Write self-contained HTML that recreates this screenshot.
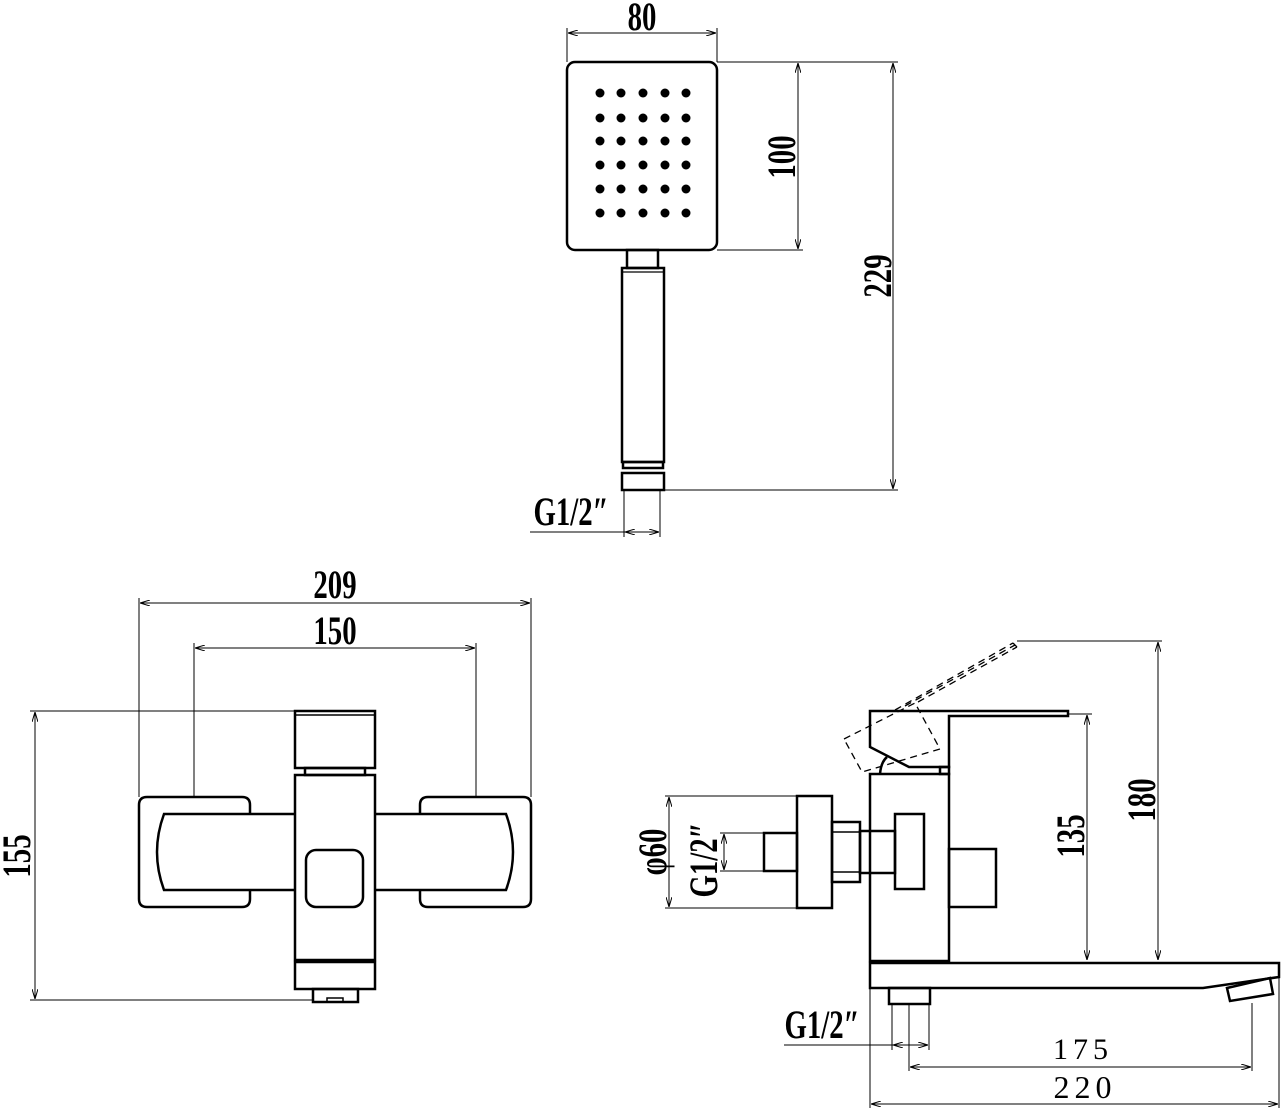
<!DOCTYPE html>
<html><head><meta charset="utf-8"><style>
html,body{margin:0;padding:0;background:#fff;}
svg{display:block;}
text{font-family:"Liberation Serif",serif;fill:#000;}
</style></head><body>
<svg width="1282" height="1110" viewBox="0 0 1282 1110" xmlns="http://www.w3.org/2000/svg">
<defs>
<marker id="a" viewBox="0 0 10 6" refX="10" refY="3" markerWidth="10" markerHeight="6" orient="auto-start-reverse" markerUnits="userSpaceOnUse"><path d="M0,0 L10,3 L0,6" fill="none" stroke="#000" stroke-width="1"/></marker>
</defs>
<g fill="none" stroke="#000" stroke-width="1">
<line x1="567" y1="28" x2="567" y2="62"/><line x1="717" y1="28" x2="717" y2="62"/>
<line x1="568" y1="33" x2="716" y2="33" marker-start="url(#a)" marker-end="url(#a)"/>
<line x1="717" y1="62" x2="898" y2="62"/><line x1="717" y1="250" x2="803" y2="250"/>
<line x1="798" y1="63" x2="798" y2="249" marker-start="url(#a)" marker-end="url(#a)"/>
<line x1="664" y1="490" x2="898" y2="490"/>
<line x1="893" y1="63" x2="893" y2="489" marker-start="url(#a)" marker-end="url(#a)"/>
<line x1="624" y1="490" x2="624" y2="537"/><line x1="660" y1="490" x2="660" y2="537"/>
<line x1="530" y1="532" x2="659" y2="532"/>
<line x1="625" y1="532" x2="659" y2="532" marker-start="url(#a)" marker-end="url(#a)"/>
<line x1="139" y1="598" x2="139" y2="797"/><line x1="531" y1="598" x2="531" y2="797"/>
<line x1="140" y1="603" x2="530" y2="603" marker-start="url(#a)" marker-end="url(#a)"/>
<line x1="194" y1="643" x2="194" y2="797"/><line x1="476" y1="643" x2="476" y2="797"/>
<line x1="195" y1="648" x2="475" y2="648" marker-start="url(#a)" marker-end="url(#a)"/>
<line x1="30" y1="711" x2="295" y2="711"/><line x1="30" y1="1000" x2="313" y2="1000"/>
<line x1="35" y1="712" x2="35" y2="999" marker-start="url(#a)" marker-end="url(#a)"/>
<line x1="1017" y1="641" x2="1162" y2="641"/>
<line x1="1158" y1="642" x2="1158" y2="960" marker-start="url(#a)" marker-end="url(#a)"/>
<line x1="1068" y1="714" x2="1092" y2="714"/>
<line x1="1087" y1="715" x2="1087" y2="960" marker-start="url(#a)" marker-end="url(#a)"/>
<line x1="665" y1="796" x2="797" y2="796"/><line x1="665" y1="908" x2="797" y2="908"/>
<line x1="669" y1="797" x2="669" y2="907" marker-start="url(#a)" marker-end="url(#a)"/>
<line x1="720" y1="833" x2="764" y2="833"/><line x1="720" y1="871" x2="764" y2="871"/>
<line x1="724" y1="834" x2="724" y2="870" marker-start="url(#a)" marker-end="url(#a)"/>
<line x1="892" y1="1004" x2="892" y2="1050"/><line x1="929" y1="1004" x2="929" y2="1050"/>
<line x1="784" y1="1045" x2="928" y2="1045"/>
<line x1="893" y1="1045" x2="928" y2="1045" marker-start="url(#a)" marker-end="url(#a)"/>
<line x1="909" y1="1004" x2="909" y2="1071"/><line x1="1252" y1="1003" x2="1252" y2="1071"/>
<line x1="910" y1="1067" x2="1251" y2="1067" marker-start="url(#a)" marker-end="url(#a)"/>
<line x1="870" y1="988" x2="870" y2="1108"/><line x1="1279" y1="977" x2="1279" y2="1108"/>
<line x1="871" y1="1104" x2="1278" y2="1104" marker-start="url(#a)" marker-end="url(#a)"/>
</g>
<g fill="none" stroke="#000" stroke-width="2.5">
<rect x="567" y="62" width="150" height="188" rx="8"/>
<rect x="627" y="250" width="31" height="18"/>
<rect x="622" y="268" width="42" height="194"/>
<line x1="622" y1="272" x2="664" y2="272" stroke-width="1.2"/>
<rect x="623" y="462" width="40" height="6"/>
<rect x="622" y="473" width="42" height="17"/>
<rect x="295" y="711" width="80" height="57"/>
<line x1="295" y1="715" x2="375" y2="715" stroke-width="1.5"/>
<rect x="305" y="768" width="60" height="7"/>
<rect x="295" y="775" width="80" height="185"/>
<rect x="295" y="962" width="80" height="27"/>
<rect x="313" y="989" width="45" height="13"/>
<rect x="327" y="998" width="16" height="4" stroke-width="1.5"/>
<rect x="306" y="850" width="57" height="57" rx="10"/>
<path d="M250,814 L250,805 Q250,797 242,797 L147,797 Q139,797 139,805 L139,899 Q139,907 147,907 L242,907 Q250,907 250,899 L250,890"/>
<path d="M295,814 L164,814 Q150,852 164,890 L295,890"/>
<path d="M420,814 L420,805 Q420,797 428,797 L523,797 Q531,797 531,805 L531,899 Q531,907 523,907 L428,907 Q420,907 420,899 L420,890"/>
<path d="M375,814 L506,814 Q520,852 506,890 L375,890"/>
<path d="M870,747 L870,711 L1068,711 L1068,716 L949,716 L949,767 L909,767 Z"/>
<rect x="940" y="767" width="9" height="7"/>
<path d="M880,774 Q881,762 887,757"/>
<rect x="870" y="774" width="79" height="187"/>
<path d="M870,963 L1279,963 L1279,977 L1203,988 L870,988 Z"/>
<line x1="870" y1="962" x2="949" y2="962"/>
<path d="M1227,988 L1270,978 L1273,994 L1230,1001 Z"/>
<rect x="889" y="988" width="41" height="16"/>
<rect x="797" y="796" width="35" height="112"/>
<rect x="764" y="833" width="33" height="38"/>
<rect x="832" y="822" width="28" height="60"/>
<line x1="832" y1="832" x2="860" y2="832" stroke-width="1.5"/><line x1="832" y1="872" x2="860" y2="872" stroke-width="1.5"/>
<rect x="860" y="831" width="35" height="42"/>
<rect x="895" y="814" width="29" height="75"/>
<rect x="949" y="849" width="47" height="58"/>
</g>
<g fill="none" stroke="#000" stroke-width="1.3" stroke-dasharray="7,5">
<path d="M844,739 L915,703 L940,749 L862,772 Z"/>
<line x1="895" y1="710" x2="1013" y2="643"/>
<line x1="905" y1="706" x2="1015" y2="645"/>
<line x1="918" y1="702" x2="1017" y2="647"/>
<line x1="1013" y1="643" x2="1017" y2="647"/>
</g>
<g fill="#000">
<g id="row">
<circle cx="600" cy="93" r="4.5"/><circle cx="621" cy="93" r="4.5"/><circle cx="643" cy="93" r="4.5"/><circle cx="665" cy="93" r="4.5"/><circle cx="686" cy="93" r="4.5"/>
</g>
<use href="#row" y="25"/><use href="#row" y="48"/><use href="#row" y="72"/><use href="#row" y="96"/><use href="#row" y="120"/>
</g>
<g font-size="40" font-weight="bold">
<text transform="translate(642 30) scale(0.72 1)" text-anchor="middle">80</text>
<text transform="translate(795 157) rotate(-90) scale(0.72 1)" text-anchor="middle">100</text>
<text transform="translate(891 276) rotate(-90) scale(0.72 1)" text-anchor="middle">229</text>
<text transform="translate(571 525) scale(0.72 1)" text-anchor="middle">G1/2″</text>
<text transform="translate(335 598) scale(0.72 1)" text-anchor="middle">209</text>
<text transform="translate(335 644) scale(0.72 1)" text-anchor="middle">150</text>
<text transform="translate(30 856) rotate(-90) scale(0.72 1)" text-anchor="middle">155</text>
<text transform="translate(666 852) rotate(-90) scale(0.72 1)" text-anchor="middle">φ60</text>
<text transform="translate(717 860) rotate(-90) scale(0.72 1)" text-anchor="middle">G1/2″</text>
<text transform="translate(1084 836) rotate(-90) scale(0.72 1)" text-anchor="middle">135</text>
<text transform="translate(1155 800) rotate(-90) scale(0.72 1)" text-anchor="middle">180</text>
<text transform="translate(822 1038) scale(0.72 1)" text-anchor="middle">G1/2″</text>
</g>
<text x="1083" y="1059" text-anchor="middle" font-size="30" letter-spacing="5">175</text>
<text x="1085" y="1098" text-anchor="middle" font-size="32" letter-spacing="5">220</text>
</svg>
</body></html>
